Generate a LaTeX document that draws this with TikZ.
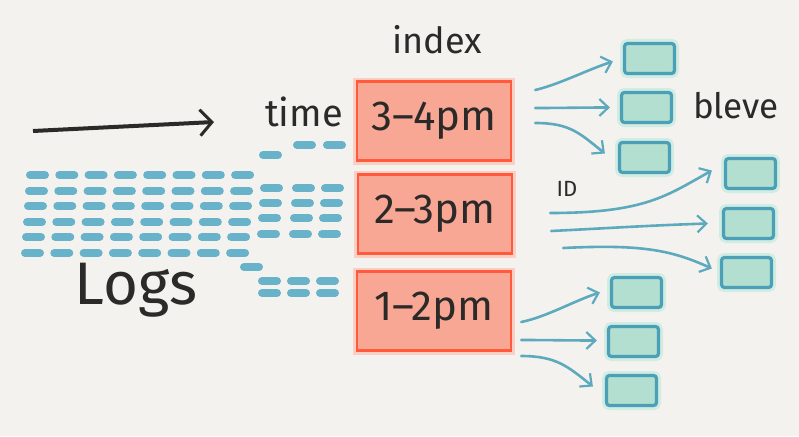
\documentclass[tikz,border=0pt]{standalone}
\usepackage{fontspec}
\setmainfont{Fira Sans}
\usetikzlibrary{arrows.meta,positioning,calc}
\definecolor{paper}{HTML}{F4F2EE}
\definecolor{logblue}{HTML}{68B3C9}
\definecolor{idxline}{HTML}{FF5A3C}
\definecolor{idxfill}{HTML}{F8A794}
\definecolor{docline}{HTML}{4B9FB6}
\definecolor{docfill}{HTML}{B2DFD0}
\definecolor{ink}{HTML}{2B2A28}

\tikzset{
	idxbox/.style={draw=idxline,fill=idxfill,line width=2.5pt,minimum width=154pt,minimum height=79pt,inner sep=0pt,
		preaction={draw=idxfill!55,line width=8pt},font=\fontsize{42}{44}\selectfont,text=ink},
	docbox/.style={draw=docline,fill=docfill,line width=3.2pt,rounded corners=3pt,minimum width=50pt,minimum height=30pt,
		preaction={draw=docfill!60,line width=9pt}},
	flow/.style={draw=docline!90,line width=2.6pt,line cap=round,-{Straight Barb[length=9pt,width=17pt,line width=2.2pt]}},
	logdash/.style={logblue,line width=8pt,line cap=round},
	word/.style={text=ink,inner sep=0pt}
}

\begin{document}
\begin{tikzpicture}[x=1pt,y=-1pt]
	
	\fill[paper] (0,0) rectangle (799,436);
	\useasboundingbox (0,0) rectangle (799,436);
	
	% log lines
	\foreach \r [count=\i from 0] in {175,191,206,222,237,253}
		\foreach \c in {0,...,7}
			\draw[logdash] ({38+29.3*\c-\i-8},\r) -- ++(15,0);
	\foreach \r [count=\i from 1] in {188,203,218,234}
		\foreach \c in {273,305,334}
			\draw[logdash] ({\c-\i-8},\r) -- ++(15,0);
	\foreach \c/\r in {271/155,305/145,335/145,252/267,270/281,299/281,328/281,270/293,299/293,328/293}
		\draw[logdash] (\c-8,\r) -- ++(15,0);
	
	% time arrow
	\coordinate (t0) at (33,131);
	\coordinate (t1) at (214,122);
	\draw[ink,line width=4pt,-{Straight Barb[length=12pt,width=26pt,line width=3pt]}] (t0) -- (t1);
	
	% index buckets
	\node[idxbox] (box34) at (434,121) {3--4pm};
	\node[idxbox] (box23) at (435,214) {2--3pm};
	\node[idxbox] (box12) at (434,311) {1--2pm};
	
	% labels
	\node[word,font=\fontsize{36}{38}\selectfont] (idx) at (437,40) {index};
	\node[word,font=\fontsize{38}{40}\selectfont] (time) at (304,112) {time};
	\node[word,font=\fontsize{60}{62}\selectfont] (logs) at (136,290) {Logs};
	\node[word,font=\fontsize{35}{37}\selectfont] (bleve) at (736,106) {bleve};
	\node[word,font=\fontsize{22}{24}\selectfont] (id) at (567,189) {ID};
	
	% documents
	\node[docbox] (d1a) at (649.5,58.5) {};
	\node[docbox] (d1b) at (646.5,107.5) {};
	\node[docbox] (d1c) at (644.5,157.5) {};
	\node[docbox] (d2a) at (750.5,173.5) {};
	\node[docbox] (d2b) at (748.5,223.5) {};
	\node[docbox] (d2c) at (746.5,272.5) {};
	\node[docbox] (d3a) at (636.5,292.5) {};
	\node[docbox] (d3b) at (633.5,341.5) {};
	\node[docbox] (d3c) at (631.5,390.5) {};
	
	% 3-4pm
	\draw[flow] ([shift={(23,-31)}]box34.east) .. controls +(25,-6) and +(-25,8) .. ([shift={(-10,3)}]d1a.west);
	\draw[flow] ([shift={(23,-13)}]box34.east) .. controls +(25,0) and +(-25,0) .. ([shift={(-10,0)}]d1b.west);
	\draw[flow] ([shift={(23,2)}]box34.east) .. controls +(35,0) and +(-25,-20) .. ([shift={(-13,-4)}]d1c.west);
	
	% 2-3pm
	\draw[flow] ([shift={(37,-1)}]box23.east) .. controls +(95,0) and +(-45,25) .. ([shift={(-12,-3)}]d2a.west);
	\draw[flow] ([shift={(38,17)}]box23.east) .. controls +(60,-3) and +(-60,2) .. ([shift={(-14,0)}]d2b.west);
	\draw[flow] ([shift={(50,34)}]box23.east) .. controls +(80,-4) and +(-40,-18) .. ([shift={(-8,-4)}]d2c.west);
	
	% 1-2pm
	\draw[flow] ([shift={(9,11)}]box12.east) .. controls +(25,-5) and +(-25,8) .. ([shift={(-10,0)}]d3a.west);
	\draw[flow] ([shift={(9,29)}]box12.east) .. controls +(25,0) and +(-25,0) .. ([shift={(-10,-1)}]d3b.west);
	\draw[flow] ([shift={(9,45)}]box12.east) .. controls +(35,0) and +(-25,-20) .. ([shift={(-12,-4)}]d3c.west);
	
\end{tikzpicture}
\end{document}
